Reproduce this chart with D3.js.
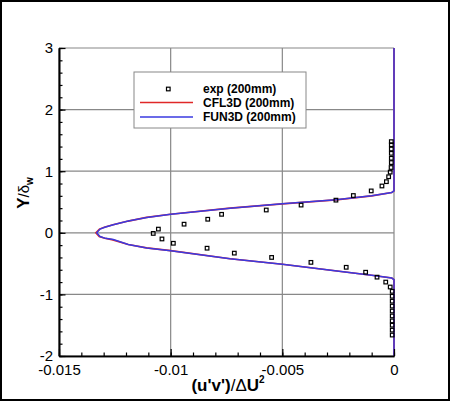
<!DOCTYPE html>
<html>
<head>
<meta charset="utf-8">
<script src="https://cdn.jsdelivr.net/npm/d3@7"></script>
<style>
  body { margin: 0; background: #fff; }
  svg { display: block; font-family: "Liberation Sans", Arial, sans-serif; }
</style>
</head>
<body>
<div id="chart"></div>
<script>
// Axis ticks
const xTicks = [-0.015, -0.01, -0.005, 0];
const xTickLabels = ["-0.015", "-0.01", "-0.005", "0"];
const yTicks = [-2, -1, 0, 1, 2, 3];
const yTickLabels = ["-2", "-1", "0", "1", "2", "3"];

// FUN3D (200mm) profile
const fun3dX = [0, 0, -0.0001, -0.0010, -0.0026, -0.0050, -0.00734, -0.0100, -0.01107, -0.0119, -0.01257, -0.01295, -0.01316, -0.01331,
                -0.01316, -0.01292, -0.01257, -0.0119, -0.01107, -0.0100, -0.00734, -0.0050, -0.0021, -0.0010, -0.0001, 0, 0];
const fun3dY = [3, 0.68, 0.655, 0.60, 0.535, 0.47, 0.40, 0.30, 0.25, 0.19, 0.13, 0.09, 0.06, 0,
                -0.06, -0.09, -0.11, -0.19, -0.245, -0.29, -0.42, -0.51, -0.64, -0.69, -0.735, -0.76, -2];

// CFL3D (200mm) profile (almost on top of FUN3D)
const cfl3dX = [0, 0, -0.0001, -0.0010, -0.0026, -0.0050, -0.00734, -0.0100, -0.01108, -0.0119, -0.01258, -0.01297, -0.01319, -0.01335,
                -0.01320, -0.01295, -0.01259, -0.0119, -0.01108, -0.0100, -0.00734, -0.0050, -0.0021, -0.0010, -0.0001, 0, 0];
const cfl3dY = [3, 0.68, 0.655, 0.60, 0.535, 0.47, 0.40, 0.30, 0.25, 0.19, 0.13, 0.09, 0.06, 0,
                -0.06, -0.09, -0.115, -0.19, -0.245, -0.29, -0.42, -0.51, -0.64, -0.69, -0.735, -0.76, -2];

// exp (200mm)
const expX = [-0.01078, -0.01055, -0.01039, -0.00988, -0.00940, -0.00834, -0.00837, -0.00772,
              -0.00572, -0.00416, -0.00260, -0.00182, -0.00102, -0.00054, -0.00034, -0.00024,
              -0.00017, -0.00013, -0.00012, -0.00012, -0.00012, -0.00012, -0.00012, -0.00012,
              -0.00715, -0.00548, -0.00372, -0.00214, -0.00127, -0.00076, -0.00037, -0.00017,
              -0.00008, -0.00008, -0.00008, -0.00008, -0.00008, -0.00008, -0.00008, -0.00008, -0.00008, -0.00008];
const expY = [-0.01, 0.06, -0.10, -0.17, 0.14, 0.22, -0.25, 0.30,
              0.37, 0.45, 0.53, 0.605, 0.68, 0.76, 0.83, 0.91,
              0.985, 1.06, 1.14, 1.21, 1.29, 1.36, 1.43, 1.48,
              -0.33, -0.40, -0.48, -0.56, -0.64, -0.72, -0.80, -0.88,
              -0.95, -1.03, -1.11, -1.19, -1.27, -1.35, -1.43, -1.50, -1.58, -1.66];

const legendLabels = ["exp (200mm)", "CFL3D (200mm)", "FUN3D (200mm)"];

const W = 450, H = 401;
const margin = { top: 48, right: 56, bottom: 45, left: 59 };
const width = W - margin.left - margin.right,
      height = H - margin.top - margin.bottom;

const blue = "#3a3ae0", red = "#e02828";

const svgRoot = d3.select("#chart").append("svg")
    .attr("width", W)
    .attr("height", H);

// Outer frame
svgRoot.append("rect")
    .attr("x", 1).attr("y", 1)
    .attr("width", W - 2).attr("height", H - 2)
    .attr("fill", "#fff")
    .attr("stroke", "#000")
    .attr("stroke-width", 2);

const svg = svgRoot.append("g")
    .attr("transform", "translate(" + margin.left + "," + margin.top + ")");

const x = d3.scaleLinear().domain([-0.015, 0]).range([0, width]);
const y = d3.scaleLinear().domain([-2, 3]).range([height, 0]);

// Grid
svg.append("g").selectAll("line.gx")
    .data(xTicks)
    .join("line")
    .attr("x1", d => x(d)).attr("x2", d => x(d))
    .attr("y1", 0).attr("y2", height)
    .attr("stroke", "#888").attr("stroke-width", 1.2);
svg.append("g").selectAll("line.gy")
    .data(yTicks)
    .join("line")
    .attr("x1", 0).attr("x2", width)
    .attr("y1", d => y(d)).attr("y2", d => y(d))
    .attr("stroke", "#888").attr("stroke-width", 1.2);

// Lines
const line = d3.line()
    .x(d => x(d[0]))
    .y(d => y(d[1]));

svg.append("path")
    .datum(d3.zip(cfl3dX, cfl3dY))
    .attr("fill", "none")
    .attr("stroke", red)
    .attr("stroke-width", 1.6)
    .attr("d", line);

svg.append("path")
    .datum(d3.zip(fun3dX, fun3dY))
    .attr("fill", "none")
    .attr("stroke", blue)
    .attr("stroke-width", 1.5)
    .attr("d", line);

// Experimental points
const s = 3.6;
svg.append("g").selectAll("rect")
    .data(d3.zip(expX, expY))
    .join("rect")
    .attr("x", d => x(d[0]) - s / 2)
    .attr("y", d => y(d[1]) - s / 2)
    .attr("width", s).attr("height", s)
    .attr("fill", "none")
    .attr("stroke", "#000")
    .attr("stroke-width", 1.2);

// Axes
const yAxis = svg.append("g")
    .call(d3.axisLeft(y).tickValues(yTicks)
        .tickFormat((d, i) => yTickLabels[i])
        .tickSize(-6.5).tickSizeOuter(0).tickPadding(6));
svg.append("g")
    .call(d3.axisLeft(y).tickValues(d3.range(-2, 3.01, 0.2))
        .tickFormat("").tickSize(-3.5).tickSizeOuter(0));

const xAxis = svg.append("g")
    .attr("transform", "translate(0," + height + ")")
    .call(d3.axisBottom(x).tickValues(xTicks)
        .tickFormat((d, i) => xTickLabels[i])
        .tickSize(-7).tickSizeOuter(0).tickPadding(8));
svg.append("g")
    .attr("transform", "translate(0," + height + ")")
    .call(d3.axisBottom(x).tickValues(d3.range(-0.015, 0.0001, 0.001))
        .tickFormat("").tickSize(-3.5).tickSizeOuter(0));

svg.selectAll(".domain").attr("stroke", "#000").attr("stroke-width", 1.6);
svg.selectAll(".tick line").attr("stroke", "#000").attr("stroke-width", 1.2);
svg.selectAll(".tick text")
    .attr("font-family", "Liberation Sans, Arial, sans-serif")
    .attr("font-size", 15)
    .attr("fill", "#000");

// Axis titles
const yTitle = svgRoot.append("text")
    .attr("transform", "translate(29,193) rotate(-90)")
    .attr("text-anchor", "middle")
    .attr("fill", "#000");
yTitle.append("tspan").attr("font-size", 17).attr("font-weight", "bold").text("Y");
yTitle.append("tspan").attr("font-size", 15).text("/δ");
yTitle.append("tspan").attr("font-size", 10).attr("font-weight", "bold").attr("dy", 4).text("w");

const xTitle = svgRoot.append("text")
    .attr("x", 228).attr("y", 391)
    .attr("text-anchor", "middle")
    .attr("fill", "#000");
xTitle.append("tspan").attr("font-size", 17).attr("font-weight", "bold").text("(u'v')");
xTitle.append("tspan").attr("font-size", 17).text("/Δ");
xTitle.append("tspan").attr("font-size", 17).attr("font-weight", "bold").text("U");
xTitle.append("tspan").attr("font-size", 10).attr("font-weight", "bold").attr("dy", -8).text("2");

// Legend
const legend = svgRoot.append("g").attr("transform", "translate(134,72)");
legend.append("rect")
    .attr("width", 172).attr("height", 56)
    .attr("fill", "#fff")
    .attr("stroke", "#888").attr("stroke-width", 1);

const rows = [17, 30.5, 45];
legend.append("rect")
    .attr("x", 34.3 - s / 2).attr("y", rows[0] - s / 2)
    .attr("width", s).attr("height", s)
    .attr("fill", "none").attr("stroke", "#000").attr("stroke-width", 1.2);
legend.append("line")
    .attr("x1", 6).attr("x2", 59).attr("y1", rows[1]).attr("y2", rows[1])
    .attr("stroke", red).attr("stroke-width", 1.6);
legend.append("line")
    .attr("x1", 6).attr("x2", 59).attr("y1", rows[2]).attr("y2", rows[2])
    .attr("stroke", blue).attr("stroke-width", 1.6);

legend.selectAll("text")
    .data(legendLabels)
    .join("text")
    .attr("x", 69)
    .attr("y", (d, i) => rows[i])
    .attr("dy", "0.36em")
    .attr("font-size", 12)
    .attr("font-weight", "bold")
    .attr("fill", "#000")
    .text(d => d);
</script>
</body>
</html>
